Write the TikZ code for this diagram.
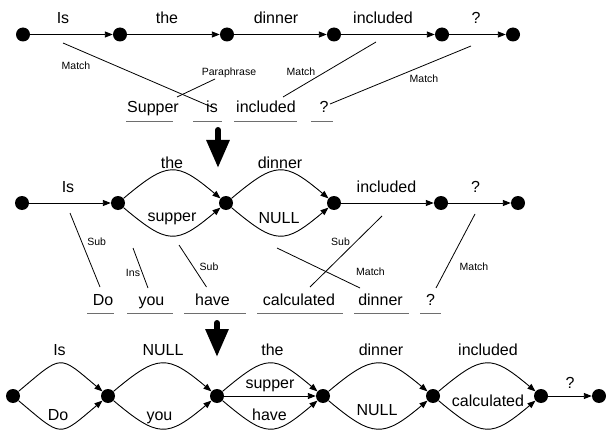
\documentclass[tikz,border=0pt]{standalone}
\usepackage{fontspec}
\setmainfont{Liberation Sans}
\usetikzlibrary{arrows.meta}
\definecolor{ulgray}{RGB}{110,110,110}
\begin{document}
\begin{tikzpicture}[x=1pt,y=1pt,
  dot/.style={circle,fill=black,inner sep=0pt,minimum size=14pt},
  lab/.style={anchor=base,inner sep=0pt,font=\fontsize{16}{19}\selectfont},
  sm/.style={anchor=base,inner sep=0pt,font=\fontsize{10.5}{12}\selectfont},
  arr/.style={line width=0.9pt,-{Triangle[length=8pt,width=6pt]}},
  upc/.style={out=40,in=140,distance=58pt},
  dnc/.style={out=-40,in=-140,distance=58pt},
  aln/.style={line width=0.8pt},
  uline/.style={line width=1.3pt,draw=ulgray},
  bigarrow/.style={line width=6pt,line cap=round,-{Triangle[length=28pt,width=22pt]}}]
\useasboundingbox (0,0) rectangle (606,-436);

% ---------------- top row ----------------
\node[dot] (t1) at (23,-34.5) {};
\node[dot] (t2) at (120,-34.5) {};
\node[dot] (t3) at (227,-34.5) {};
\node[dot] (t4) at (334,-34.5) {};
\node[dot] (t5) at (442,-34.5) {};
\node[dot] (t6) at (513,-34.5) {};
\draw[arr] (t1) -- (t2);
\draw[arr] (t2) -- (t3);
\draw[arr] (t3) -- (t4);
\draw[arr] (t4) -- (t5);
\draw[arr] (t5) -- (t6);
\node[lab] (tl1) at (63,-23.5) {Is};
\node[lab] (tl2) at (167,-23.5) {the};
\node[lab] (tl3) at (276,-23.5) {dinner};
\node[lab] (tl4) at (383,-23.5) {included};
\node[lab] (tl5) at (476,-23.5) {?};

% words row 1
\node[lab] (w1) at (153,-113) {Supper};
\node[lab] (w2) at (212,-113) {is};
\node[lab] (w3) at (266,-113) {included};
\node[lab] (w4) at (324,-113) {?};
\draw[uline] (126,-121.5) -- (173,-121.5);
\draw[uline] (193,-121.5) -- (222,-121.5);
\draw[uline] (234,-121.5) -- (297,-121.5);
\draw[uline] (311,-121.5) -- (333,-121.5);

% alignment lines top
\coordinate (ta1) at (63,-43);   \coordinate (tb1) at (214,-108);
\coordinate (ta2) at (177,-97);  \coordinate (tb2) at (215,-79);
\coordinate (ta3) at (283,-97);  \coordinate (tb3) at (376,-42);
\coordinate (ta4) at (330,-104); \coordinate (tb4) at (471,-46);
\draw[aln] (ta1) -- (tb1);
\draw[aln] (ta2) -- (tb2);
\draw[aln] (ta3) -- (tb3);
\draw[aln] (ta4) -- (tb4);
\node[sm] (ts1) at (76,-69.5) {Match};
\node[sm] (ts2) at (229,-76) {Paraphrase};
\node[sm] (ts3) at (301,-76) {Match};
\node[sm] (ts4) at (424,-83) {Match};

% big arrow 1
\coordinate (ba1) at (218,-130);
\coordinate (bb1) at (218,-168);
\draw[bigarrow] (ba1) -- (bb1);

% ---------------- middle row ----------------
\node[dot] (m1) at (22,-203) {};
\node[dot] (m2) at (118,-203) {};
\node[dot] (m3) at (226,-203) {};
\node[dot] (m4) at (334,-203) {};
\node[dot] (m5) at (441,-203) {};
\node[dot] (m6) at (518,-203) {};
\draw[arr] (m1) -- (m2);
\draw[arr] (m2) to[upc] (m3);
\draw[arr] (m2) to[dnc] (m3);
\draw[arr] (m3) to[upc] (m4);
\draw[arr] (m3) to[dnc] (m4);
\draw[arr] (m4) -- (m5);
\draw[arr] (m5) -- (m6);
\node[lab] (ml1) at (68,-193) {Is};
\node[lab] (ml2) at (172,-168) {the};
\node[lab] (ml3) at (172,-222) {supper};
\node[lab] (ml4) at (280,-168) {dinner};
\node[lab] (ml5) at (279,-223) {NULL};
\node[lab] (ml6) at (386.5,-193) {included};
\node[lab] (ml7) at (475.5,-193) {?};

% words row 2
\node[lab] (v1) at (103,-305) {Do};
\node[lab] (v2) at (151.5,-305) {you};
\node[lab] (v3) at (212.5,-305) {have};
\node[lab] (v4) at (299,-305) {calculated};
\node[lab] (v5) at (380.5,-305) {dinner};
\node[lab] (v6) at (430.5,-305) {?};
\draw[uline] (87,-313.3) -- (114,-313.3);
\draw[uline] (127,-313.3) -- (173,-313.3);
\draw[uline] (184,-313.3) -- (246,-313.3);
\draw[uline] (257,-313.3) -- (343,-313.3);
\draw[uline] (354,-313.3) -- (409,-313.3);
\draw[uline] (420,-313.3) -- (441,-313.3);

% alignment lines middle
\coordinate (ma1) at (70,-213);   \coordinate (mb1) at (100,-287);
\coordinate (ma2) at (133,-248);  \coordinate (mb2) at (148,-288);
\coordinate (ma3) at (179,-245);  \coordinate (mb3) at (206.5,-287);
\coordinate (ma4) at (277,-248);  \coordinate (mb4) at (360,-288);
\coordinate (ma5) at (382,-216);  \coordinate (mb5) at (310,-287);
\coordinate (ma6) at (475,-214);  \coordinate (mb6) at (436,-288);
\draw[aln] (ma1) -- (mb1);
\draw[aln] (ma2) -- (mb2);
\draw[aln] (ma3) -- (mb3);
\draw[aln] (ma4) -- (mb4);
\draw[aln] (ma5) -- (mb5);
\draw[aln] (ma6) -- (mb6);
\node[sm] (ms1) at (96.7,-245) {Sub};
\node[sm] (ms2) at (133,-276) {Ins};
\node[sm] (ms3) at (209,-270) {Sub};
\node[sm] (ms4) at (340.5,-245) {Sub};
\node[sm] (ms5) at (370.5,-275) {Match};
\node[sm] (ms6) at (474,-270) {Match};

% big arrow 2
\coordinate (ba2) at (217,-323);
\coordinate (bb2) at (217,-357);
\draw[bigarrow] (ba2) -- (bb2);

% ---------------- bottom row ----------------
\node[dot] (b1) at (13,-396) {};
\node[dot] (b2) at (108,-396) {};
\node[dot] (b3) at (217,-396) {};
\node[dot] (b4) at (323,-396) {};
\node[dot] (b5) at (433,-396) {};
\node[dot] (b6) at (541,-396) {};
\node[dot] (b7) at (599,-396) {};
\draw[arr] (b1) to[upc] (b2);
\draw[arr] (b1) to[dnc] (b2);
\draw[arr] (b2) to[upc] (b3);
\draw[arr] (b2) to[dnc] (b3);
\draw[arr] (b3) to[upc] (b4);
\draw[arr] (b3) -- (b4);
\draw[arr] (b3) to[dnc] (b4);
\draw[arr] (b4) to[upc] (b5);
\draw[arr] (b4) to[dnc] (b5);
\draw[arr] (b5) to[upc] (b6);
\draw[arr] (b5) to[dnc] (b6);
\draw[arr] (b6) -- (b7);
\node[lab] (bl1) at (59.5,-355) {Is};
\node[lab] (bl2) at (58,-420) {Do};
\node[lab] (bl3) at (163,-355) {NULL};
\node[lab] (bl4) at (159.5,-420) {you};
\node[lab] (bl5) at (272.5,-355) {the};
\node[lab] (bl6) at (270,-388) {supper};
\node[lab] (bl7) at (269.5,-420) {have};
\node[lab] (bl8) at (381,-355) {dinner};
\node[lab] (bl9) at (377,-415) {NULL};
\node[lab] (bl10) at (488,-355) {included};
\node[lab] (bl11) at (488,-406) {calculated};
\node[lab] (bl12) at (570,-388) {?};
\end{tikzpicture}
\end{document}
